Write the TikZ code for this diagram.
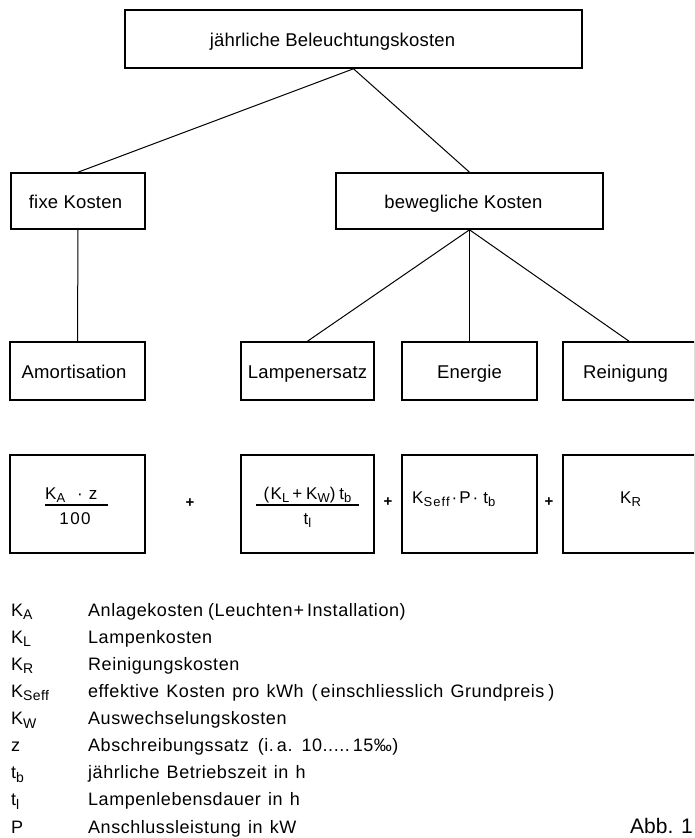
\documentclass[tikz,border=0pt]{standalone}
\usepackage{fontspec}
\setmainfont{Liberation Sans}
\newfontfamily\bxf{Liberation Sans}[LetterSpace=1]
\newfontfamily\fmf{Liberation Sans}[LetterSpace=8.5]
\newfontfamily\lgf{Liberation Sans}[LetterSpace=3,WordSpace=1.3]
\newfontfamily\abbfont{Liberation Sans}
\def\sbsz{13}
\newcommand\lo[1]{\raisebox{-0.4ex}{\fontsize{\sbsz}{\sbsz}\selectfont #1}}
\begin{document}
\begin{tikzpicture}[x=1pt,y=-1pt,
  box/.style={draw, line width=1.6pt, rectangle, inner sep=0pt, font=\bxf\fontsize{18.5}{20}\selectfont},
  lbox/.style={box, text height=19pt, text depth=4pt},
  con/.style={line width=1pt},
  frule/.style={line width=1.1pt},
  ftxt/.style={inner sep=0pt, font={\def\sbsz{13}\fmf\fontsize{17}{19}\selectfont}},
  legtxt/.style={anchor=base west, inner sep=0pt, font={\def\sbsz{14}\lgf\fontsize{18}{20}\selectfont}},
  plus/.style={inner sep=0pt, font=\fontsize{15}{15}\selectfont\bfseries}]
\useasboundingbox (0,0) rectangle (694,838);
\clip (0,0) rectangle (694,838);
\fill[white] (0,0) rectangle (694,838);
% level 1
\node[lbox, minimum width=457, minimum height=58] (top) at (353.5,39) {jährliche Beleuchtungskosten\hspace*{42pt}};
% level 2
\node[lbox, minimum width=134, minimum height=56] (fixe) at (78,201) {fixe Kosten\hspace*{5pt}};
\node[lbox, minimum width=267, minimum height=56] (bew) at (469.5,201) {bewegliche Kosten\hspace*{12pt}};
% level 3
\node[lbox, minimum width=135, minimum height=58] (amort) at (77.5,371) {Amortisation\hspace*{7pt}};
\node[lbox, minimum width=133, minimum height=58] (lamp) at (307.5,371) {Lampenersatz};
\node[lbox, minimum width=135, minimum height=58] (ener) at (469.5,371) {Energie};
\node[lbox, minimum width=132, minimum height=58] (rein) at (629,371) {Reinigung\hspace*{7pt}};
% formula boxes
\node[box, minimum width=135, minimum height=98] (f1) at (77.5,504) {};
\node[box, minimum width=133, minimum height=98] (f2) at (307.5,504) {};
\node[box, minimum width=135, minimum height=98] (f3) at (469.5,504) {};
\node[box, minimum width=132, minimum height=98] (f4) at (629,504) {};
% formula texts
\node[ftxt, anchor=base west] (n1) at (45,499) {K\lo{A}\hspace{12pt}·\hspace{6pt}z};
\draw[frule] (45,505) -- (108,505);
\node[ftxt, anchor=base] (d1) at (75,524) {100};
\node[ftxt, anchor=base] (n2) at (307.5,499) {(K\lo{L}\hspace{3pt}+\hspace{4pt}K\lo{W})\hspace{4pt}t\lo{b}};
\draw[frule] (256,505) -- (359,505);
\node[ftxt, anchor=base] (d2) at (307.5,524) {t\lo{l}};
\node[ftxt, anchor=base west] (n3) at (412,503) {K\lo{Seff}\hspace{2pt}·\hspace{2pt}P\hspace{2pt}·\hspace{5pt}t\lo{b}};
\node[ftxt, anchor=base west] (n4) at (620,503) {K\lo{R}};
\node[plus] (p1) at (190,503) {+};
\node[plus] (p2) at (388,502) {+};
\node[plus] (p3) at (549,502) {+};
% connectors
\draw[con] (top.south) -- (fixe.north);
\draw[con] (top.south) -- (bew.north);
\draw[con] (fixe.south) -- (amort.north);
\draw[con] (bew.south) -- (lamp.north);
\draw[con] (bew.south) -- (ener.north);
\draw[con] (bew.south) -- (rein.north);
% legend
\node[legtxt] (s1) at (11,616) {K\lo{A}};
\node[legtxt] (d1l) at (88,616) {Anlagekosten\hspace{5pt}(Leuchten\hspace{1pt}+\hspace{3pt}Installation)};
\node[legtxt] (s2) at (11,643) {K\lo{L}};
\node[legtxt] (d2l) at (88,643) {Lampenkosten};
\node[legtxt] (s3) at (11,670) {K\lo{R}};
\node[legtxt] (d3l) at (88,670) {Reinigungskosten};
\node[legtxt] (s4) at (11,697) {K\lo{Seff}};
\node[legtxt] (d4l) at (88,697) {effektive Kosten pro kWh\hspace{8pt}(\hspace{3pt}einschliesslich Grundpreis\hspace{4pt})};
\node[legtxt] (s5) at (11,724.5) {K\lo{W}};
\node[legtxt] (d5l) at (88,724.5) {Auswechselungskosten};
\node[legtxt] (s6) at (11,751.5) {z};
\node[legtxt] (d6l) at (88,751.5) {Abschreibungssatz\hspace{9pt}(i.\,a. 10.....\,15‰)};
\node[legtxt] (s7) at (11,778.5) {t\lo{b}};
\node[legtxt] (d7l) at (88,778.5) {jährliche Betriebszeit in h};
\node[legtxt] (s8) at (11,805.5) {t\lo{l}};
\node[legtxt] (d8l) at (88,805.5) {Lampenlebensdauer in h};
\node[legtxt] (s9) at (11,833) {P};
\node[legtxt] (d9l) at (88,833) {Anschlussleistung in kW};
\node[anchor=base east, inner sep=0pt, font=\abbfont\fontsize{21}{24}\selectfont] (abb) at (693,833) {Abb. 1};
\end{tikzpicture}
\end{document}
